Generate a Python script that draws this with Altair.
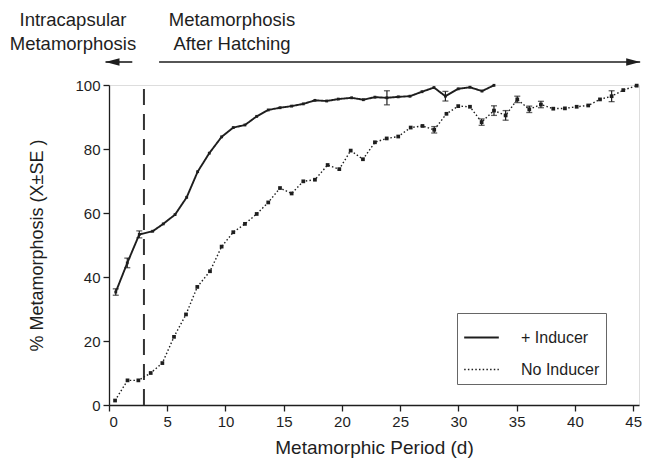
import altair as alt
import pandas as pd

# ---- data ----
series_names = ["+ Inducer", "No Inducer"]

ind_day = [0.58, 1.57, 2.60, 3.75, 4.66, 5.67, 6.67, 7.61, 8.61, 9.67, 10.67, 11.67,
           12.68, 13.67, 14.68, 15.68, 16.68, 17.68, 18.69, 19.68, 20.83, 21.83, 22.83,
           23.86, 24.83, 25.84, 26.87, 27.90, 28.88, 29.98, 30.99, 32.02, 33.05]
ind_val = [35.3, 44.4, 53.3, 54.3, 56.6, 59.5, 64.9, 72.9, 78.7, 83.8, 86.7, 87.5,
           90.2, 92.2, 92.9, 93.4, 94.1, 95.2, 95.0, 95.6, 96.0, 95.4, 96.2,
           96.0, 96.3, 96.5, 97.9, 99.2, 96.5, 98.8, 99.3, 98.1, 99.9]
ind_se = [1.0, 1.5, 1.1, 0, 0, 0, 0, 0, 0, 0, 0, 0,
          0, 0, 0, 0, 0, 0, 0, 0, 0, 0, 0,
          2.2, 0, 0, 0, 0, 1.5, 0, 0, 0, 0]

no_day = [0.52, 1.59, 2.52, 3.58, 4.58, 5.58, 6.61, 7.58, 8.67, 9.67, 10.67, 11.67,
          12.68, 13.67, 14.68, 15.68, 16.68, 17.68, 18.77, 19.77, 20.75, 21.80, 22.83,
          23.84, 24.83, 25.90, 26.91, 27.92, 28.97, 29.98, 30.99, 31.99, 33.05, 34.05,
          35.05, 36.08, 37.08, 38.14, 39.14, 40.15, 41.14, 42.15, 43.15, 44.15, 45.30]
no_val = [1.4, 7.7, 7.7, 10.0, 13.1, 21.3, 28.3, 36.9, 41.8, 49.5, 54.0, 56.6,
          59.7, 63.3, 67.8, 66.1, 69.9, 70.4, 75.0, 73.7, 79.5, 76.8, 82.1,
          83.3, 83.9, 86.7, 87.2, 86.0, 91.0, 93.4, 93.2, 88.4, 92.0, 90.5,
          95.5, 92.4, 93.9, 92.6, 92.7, 93.2, 93.6, 95.5, 96.5, 98.4, 99.8]
no_se = [0, 0, 0, 0, 0, 0, 0, 0, 0, 0, 0, 0,
         0, 0, 0, 0, 0, 0, 0, 0, 0, 0, 0,
         0, 0, 0, 0, 1.0, 0, 0, 0, 1.0, 1.5, 1.5,
         1.0, 1.0, 1.0, 0, 0, 0, 0, 0, 1.7, 0, 0]

hatch_day = 3
x_ticks = [0, 5, 10, 15, 20, 25, 30, 35, 40, 45]
y_ticks = [0, 20, 40, 60, 80, 100]

df = pd.concat([
    pd.DataFrame({"series": series_names[0], "day": ind_day, "value": ind_val, "se": ind_se}),
    pd.DataFrame({"series": series_names[1], "day": no_day, "value": no_val, "se": no_se}),
])
df["lo"] = df["value"] - df["se"]
df["hi"] = df["value"] + df["se"]

FONT = "Liberation Sans"
INK = "#1e1e1e"

xscale = alt.Scale(domain=[0, 45.5], nice=False, zero=False)
yscale = alt.Scale(domain=[0, 100], nice=False)

base = alt.Chart(df)

lines = base.mark_line(color=INK, clip=False).encode(
    x=alt.X("day:Q", scale=xscale,
            axis=alt.Axis(values=x_ticks, title="Metamorphic Period (d)", grid=False,
                          tickSize=6, labelPadding=3, labelFontSize=15, labelFont=FONT,
                          labelColor=INK, titleFont=FONT, titleFontSize=19,
                          titleFontWeight="normal", titleColor=INK, titleY=42,
                          titleBaseline="middle", domainColor=INK, tickColor=INK,
                          domainWidth=1.3, tickWidth=1.3)),
    y=alt.Y("value:Q", scale=yscale,
            axis=alt.Axis(values=y_ticks, title="% Metamorphosis (X±SE )", grid=False,
                          tickSize=6, labelPadding=3, labelFontSize=15, labelFont=FONT,
                          labelColor=INK, titleFont=FONT, titleFontSize=18,
                          titleFontWeight="normal", titleColor=INK, titleX=-72,
                          titleY=160, titleAngle=-90, titleAlign="center",
                          titleBaseline="middle", domainColor=INK, tickColor=INK,
                          domainWidth=1.3, tickWidth=1.3)),
    strokeDash=alt.StrokeDash("series:N",
                              scale=alt.Scale(domain=series_names, range=[[1, 0], [1.5, 2.2]]),
                              legend=alt.Legend(title=None, orient="none", legendX=348,
                                                legendY=228, strokeColor="#666",
                                                fillColor="white", padding=6,
                                                symbolType="stroke", symbolSize=1200,
                                                symbolStrokeColor=INK, symbolStrokeWidth=1.4,
                                                labelFont=FONT, labelFontSize=16,
                                                labelColor=INK, labelOffset=21,
                                                rowPadding=5)),
    strokeWidth=alt.StrokeWidth("series:N",
                                scale=alt.Scale(domain=series_names, range=[1.9, 1.4]),
                                legend=None),
)

markers_ind = base.transform_filter(f"datum.series == '{series_names[0]}'").mark_square(
    color=INK, opacity=1, size=8).encode(
    x=alt.X("day:Q", scale=xscale), y=alt.Y("value:Q", scale=yscale))
markers_no = base.transform_filter(f"datum.series == '{series_names[1]}'").mark_square(
    color=INK, opacity=1, size=14).encode(
    x=alt.X("day:Q", scale=xscale), y=alt.Y("value:Q", scale=yscale))

err = base.transform_filter("datum.se > 0")
err_rule = err.mark_rule(color=INK, strokeWidth=1.2).encode(
    x="day:Q", y="lo:Q", y2="hi:Q")
cap_lo = err.mark_tick(color=INK, orient="horizontal", size=6, thickness=1.3).encode(
    x="day:Q", y="lo:Q")
cap_hi = err.mark_tick(color=INK, orient="horizontal", size=6, thickness=1.3).encode(
    x="day:Q", y="hi:Q")

hatch = alt.Chart(pd.DataFrame({"day": [hatch_day]})).mark_rule(
    color="#333", strokeWidth=2, strokeDash=[16, 9]).encode(
    x=alt.X("day:Q", scale=xscale), y=alt.datum(0), y2=alt.datum(100))

# ---- top annotation: text and arrows ----
note_df = pd.DataFrame({
    "text": ["Intracapsular", "Metamorphosis", "Metamorphosis", "After Hatching"],
    "px": [-36, -36, 123, 123],
    "py": [-65, -41, -65, -41],
})
notes = alt.Chart(note_df).mark_text(font=FONT, fontSize=18.5, color=INK, align="center",
                                     baseline="middle").encode(
    text="text:N", x=alt.X("px:Q", scale=None), y=alt.Y("py:Q", scale=None))

arrow_df = pd.DataFrame({"x1": [-0.3, 4.3], "x2": [2.0, 45.6]})
arrow_lines = alt.Chart(arrow_df).mark_rule(color=INK, strokeWidth=1.6, clip=False).encode(
    x=alt.X("x1:Q", scale=xscale), x2="x2:Q", y=alt.value(-23))

head_df = pd.DataFrame({"x": [0.3, 45.0], "dir": ["left", "right"]})
heads = alt.Chart(head_df).mark_point(filled=True, color=INK, opacity=1, size=196,
                                      clip=False).encode(
    x=alt.X("x:Q", scale=xscale), y=alt.value(-23),
    shape=alt.Shape("dir:N", scale=alt.Scale(domain=["left", "right"],
                                              range=["M-1,0L1,-0.55L1,0.55Z",
                                                     "M1,0L-1,-0.55L-1,0.55Z"]),
                    legend=None))

chart = alt.layer(hatch, lines, markers_ind, markers_no, err_rule, cap_lo, cap_hi, notes,
                  arrow_lines, heads).properties(
    width=530, height=320,
    autosize=alt.AutoSizeParams(type="none"),
    padding={"left": 109, "top": 85, "right": 7, "bottom": 56},
).configure_view(stroke=None).configure(background="white")

chart.save("out.html", embed_options={"renderer": "svg", "actions": False})
